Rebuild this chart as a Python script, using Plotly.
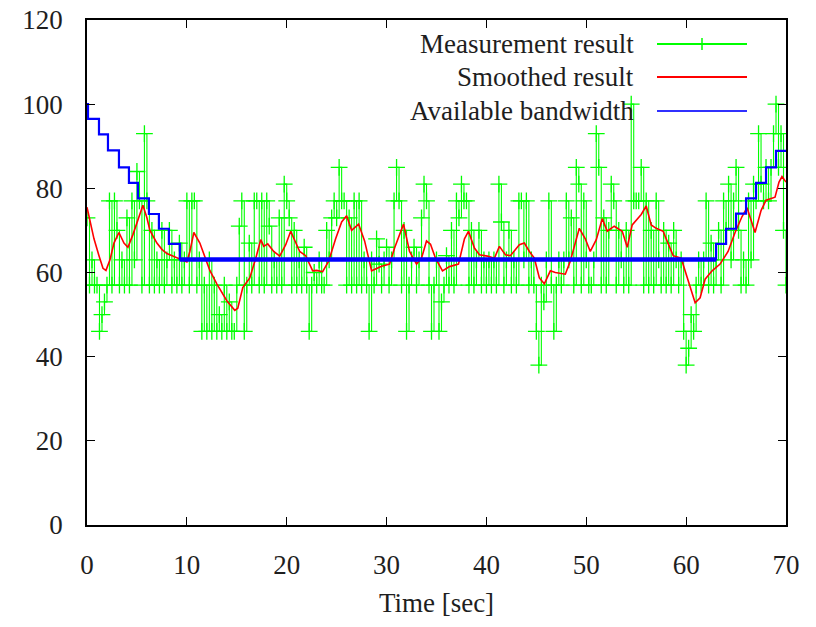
import numpy as np
import plotly.graph_objects as go

# ---------------- data ----------------
# Measurement result: one value every 0.25 s, 4 values per row = 1 second
meas_step = 0.25
meas_values = [
    73, 57, 63, 57,   # 0 s
    57, 46, 50, 53,   # 1
    57, 77, 57, 77,   # 2
    70, 57, 63, 57,   # 3
    73, 57, 77, 63,   # 4
    84, 77, 57, 93,   # 5
    77, 57, 70, 57,   # 6
    63, 57, 70, 57,   # 7
    63, 70, 57, 63,   # 8
    57, 67, 57, 63,   # 9
    77, 57, 77, 77,   # 10
    57, 63, 46, 57,   # 11
    46, 63, 46, 57,   # 12
    46, 50, 46, 57,   # 13
    46, 53, 46, 46,   # 14
    57, 71, 77, 46,   # 15
    57, 67, 57, 77,   # 16
    77, 57, 77, 57,   # 17
    77, 71, 57, 63,   # 18
    57, 73, 57, 81,   # 19
    77, 73, 57, 70,   # 20
    57, 63, 57, 66,   # 21
    57, 46, 57, 60,   # 22
    57, 63, 57, 57,   # 23
    70, 63, 73, 77,   # 24
    73, 85, 77, 77,   # 25
    57, 73, 57, 77,   # 26
    57, 77, 57, 63,   # 27
    57, 46, 63, 57,   # 28
    68, 62, 57, 63,   # 29
    66, 57, 63, 77,   # 30
    85, 77, 57, 70,   # 31
    46, 57, 63, 66,   # 32
    57, 63, 73, 81,   # 33
    77, 57, 46, 57,   # 34
    63, 46, 53, 57,   # 35
    64, 57, 70, 57,   # 36
    77, 73, 81, 77,   # 37
    77, 57, 70, 57,   # 38
    63, 70, 57, 63,   # 39
    57, 63, 57, 63,   # 40
    57, 81, 72, 57,   # 41
    63, 70, 57, 63,   # 42
    57, 77, 77, 63,   # 43
    77, 57, 63, 57,   # 44
    46, 38, 57, 53,   # 45
    63, 77, 57, 46,   # 46
    57, 63, 57, 63,   # 47
    77, 63, 73, 57,   # 48
    85, 81, 57, 77,   # 49
    63, 57, 57, 63,   # 50
    93, 85, 57, 73,   # 51
    57, 70, 81, 77,   # 52
    57, 70, 63, 57,   # 53
    70, 57, 100, 77,  # 54
    77, 77, 85, 57,   # 55
    77, 57, 70, 57,   # 56
    77, 63, 57, 70,   # 57
    57, 67, 57, 70,   # 58
    63, 57, 63, 46,   # 59
    38, 42, 50, 46,   # 60
    57, 63, 57, 63,   # 61
    77, 57, 67, 57,   # 62
    63, 70, 57, 77,   # 63
    70, 81, 63, 77,   # 64
    85, 70, 57, 63,   # 65
    57, 77, 63, 81,   # 66
    77, 93, 81, 77,   # 67
    85, 77, 85, 93,   # 68
    100, 85, 93, 70,  # 69
    57,               # 70
]
meas_time = np.arange(len(meas_values)) * meas_step

# Smoothed result
smooth_time = [0, 0.3, 0.7, 1.2, 1.6, 1.9, 2.3, 2.7, 3.2, 3.7, 4.1, 4.6, 5.0, 5.6, 6.0,
               6.3, 7.0, 7.5, 8.0, 9.0, 10.0, 10.3, 10.7, 11.3, 12.3, 13.0, 14.0, 14.8,
               15.1, 15.6, 16.3, 16.9, 17.4, 17.7, 18.1, 18.7, 19.3, 19.9, 20.4, 21.3,
               21.9, 22.6, 23.0, 23.6, 24.2, 24.9, 25.5, 26.0, 26.5, 27.2, 27.8, 28.5,
               29.0, 29.5, 30.3, 30.8, 31.7, 32.3, 33.0, 33.5, 34.0, 34.4, 34.9, 35.6,
               36.3, 37.2, 37.8, 38.2, 38.8, 39.3, 40.1, 40.8, 41.3, 41.9, 42.4, 43.3,
               43.8, 44.3, 44.8, 45.3, 45.8, 46.4, 46.9, 47.9, 48.4, 49.3, 49.9, 50.4,
               51.0, 51.6, 52.1, 52.8, 53.6, 54.1, 54.6, 55.5, 56.0, 56.5, 57.0, 57.7,
               58.0, 58.7, 59.5, 60.1, 60.9, 61.4, 61.9, 62.6, 63.4, 64.2, 64.9, 65.6,
               66.1, 66.9, 67.5, 68.0, 68.9, 69.3, 69.6, 70.0]
smooth_values = [75.5, 72, 68, 64, 61, 60.5, 63, 67, 69.5, 67, 66, 69, 72, 76, 73,
                 70, 67, 65.5, 64.5, 63.5, 62.5, 65, 69.5, 67, 60.5, 57.3, 53.3, 51,
                 51.5, 56.4, 58.7, 63.4, 67.8, 66.2, 66.8, 65, 63.9, 66.6, 69.8, 65,
                 64, 60.4, 60.5, 60.2, 62.7, 68, 72, 73.5, 70, 71.5, 67.5, 60.4,
                 61, 61.5, 62, 65.8, 71.5, 65, 62, 63.4, 67.5, 66.7, 63.4, 60.4,
                 61.4, 62, 68, 69.8, 65.8, 64.2, 63.9, 63.4, 66.2, 64.2, 64, 66.6,
                 67, 65, 63.4, 58.7, 57.3, 60.4, 60, 59.6, 62.7, 70.5, 68, 65,
                 67.8, 72.8, 69.8, 71, 69.8, 66, 71.3, 73.8, 75.8, 71.3, 70.5, 69.8,
                 68, 64, 63.4, 58.7, 52.8, 54, 58.4, 60.4, 62, 65, 69.5, 73.3,
                 75.4, 69.5, 74.7, 77.2, 77.9, 81.5, 82.8, 81.5]

# Available bandwidth (stepwise)
avail_time = [0, 0.1, 1.2, 2.1, 3.2, 4.2, 5.1, 6.2, 7.2, 8.2, 9.3,
              63.0, 64.0, 65.0, 66.0, 67.0, 68.0, 69.0, 70.0]
avail_values = [100, 96.5, 92.8, 89.0, 85.0, 81.3, 77.6, 73.9, 70.4, 66.8, 63.1,
                66.8, 70.4, 74.0, 77.6, 81.3, 85.0, 88.9, 88.9]
flat_start, flat_end = 10, 11   # indices of the long flat section

x_ticks = [0, 10, 20, 30, 40, 50, 60, 70]
y_ticks = [0, 20, 40, 60, 80, 100, 120]
legend_labels = ["Measurement result", "Smoothed result", "Available bandwidth"]

# ---------------- styling ----------------
GREEN = "#00ff00"
RED = "#ff0000"
BLUE = "#0000ff"
FONT = "'Liberation Serif', 'Times New Roman', Times, serif"
FS = 27
TXT = "#1e1e1e"

fig = go.Figure()

fig.add_trace(go.Scatter(
    x=meas_time, y=meas_values, mode="lines+markers",
    line=dict(color=GREEN, width=1.1, shape="hv"),
    marker=dict(symbol="cross-thin", size=12, line=dict(color=GREEN, width=1.3)),
    showlegend=False))

fig.add_trace(go.Scatter(
    x=smooth_time, y=smooth_values, mode="lines",
    line=dict(color=RED, width=1.6), showlegend=False))

fig.add_trace(go.Scatter(
    x=avail_time, y=avail_values, mode="lines",
    line=dict(color=BLUE, width=2.2, shape="hv"), showlegend=False))

fig.add_trace(go.Scatter(
    x=avail_time[flat_start:flat_end + 1],
    y=[avail_values[flat_start], avail_values[flat_start]],
    mode="lines", line=dict(color=BLUE, width=4.5), showlegend=False))

# ---------------- manual gnuplot-style key ----------------
plot_top, plot_bottom, plot_left, plot_right = 20, 525, 87, 786
pw, ph = plot_right - plot_left, plot_bottom - plot_top


def px(xp):
    return (xp - plot_left) / pw


def py(yp):
    return (plot_bottom - yp) / ph


key_rows = [44, 77, 111]
key_cols = [GREEN, RED, "#3030ff"]
for lab, yrow, col in zip(legend_labels, key_rows, key_cols):
    fig.add_annotation(x=px(636), y=py(yrow), xref="paper", yref="paper",
                       text=lab, showarrow=False, xanchor="right", yanchor="middle",
                       font=dict(family=FONT, size=FS, color=TXT))
    fig.add_shape(type="line", xref="paper", yref="paper",
                  x0=px(657), x1=px(747), y0=py(yrow), y1=py(yrow),
                  line=dict(color=col, width=2))
fig.add_shape(type="line", xref="paper", yref="paper",
              x0=px(702), x1=px(702), y0=py(key_rows[0] - 6), y1=py(key_rows[0] + 6),
              line=dict(color=GREEN, width=1.5))

axis_common = dict(showline=True, linecolor="black", linewidth=1.5, mirror="ticks",
                   ticks="inside", ticklen=8, tickwidth=1.2, tickcolor="black",
                   showgrid=False, zeroline=False, automargin=False,
                   tickfont=dict(family=FONT, size=FS, color=TXT))

fig.update_xaxes(range=[0, 70], tickvals=x_ticks, ticktext=[str(v) for v in x_ticks],
                 ticklabelstandoff=15,
                 title=dict(text="Time [sec]", font=dict(family=FONT, size=FS, color=TXT),
                            standoff=14),
                 **axis_common)
fig.update_yaxes(range=[0, 120], tickvals=y_ticks, ticktext=[str(v) for v in y_ticks],
                 ticklabelstandoff=17, **axis_common)

fig.update_layout(width=816, height=627,
                  margin=dict(l=plot_left, r=816 - plot_right, t=plot_top, b=627 - plot_bottom),
                  plot_bgcolor="white", paper_bgcolor="white", showlegend=False,
                  font=dict(family=FONT))

fig.write_html("out.html", config={"displayModeBar": False},
               post_script="document.body.style.margin='0';document.body.style.overflow='hidden';")
